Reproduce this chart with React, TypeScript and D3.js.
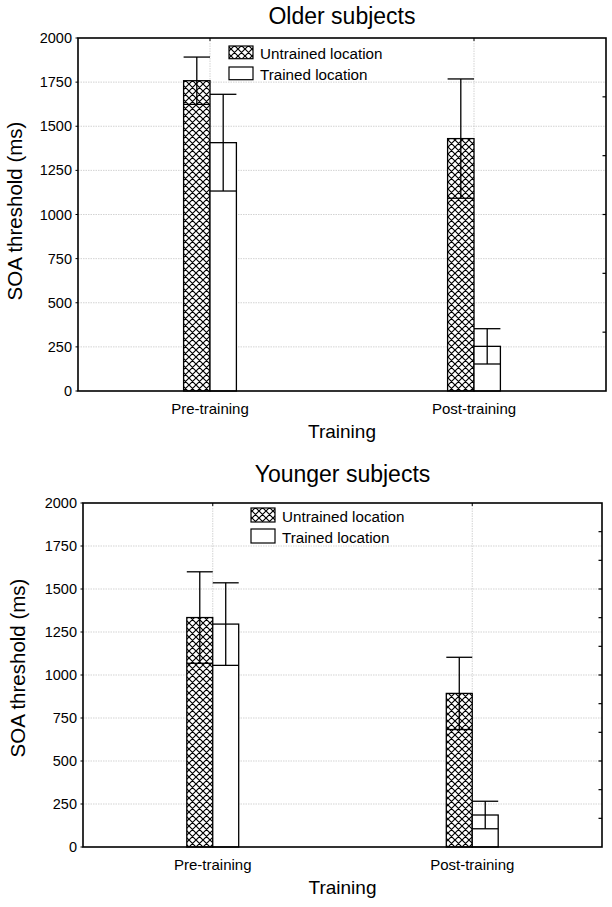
import React from "react";
import * as d3 from "d3";

const categories = ["Pre-training", "Post-training"];
const seriesNames = ["Untrained location", "Trained location"];
const yTicks = [0, 250, 500, 750, 1000, 1250, 1500, 1750, 2000];

const olderUntrained = [1758, 1430];
const olderUntrainedErr = [134, 338];
const olderTrained = [1407, 253];
const olderTrainedErr = [274, 100];

const youngerUntrained = [1334, 893];
const youngerUntrainedErr = [266, 210];
const youngerTrained = [1296, 186];
const youngerTrainedErr = [240, 80];

const FONT = "'Liberation Sans', Arial, Helvetica, sans-serif";

type PanelProps = {
  title: string;
  untrained: number[];
  untrainedErr: number[];
  trained: number[];
  trainedErr: number[];
  left: number;
  right: number;
  top: number;
  bottom: number;
  titleY: number;
  yTitleX: number;
  yTitleY: number;
  legendX: number;
  legendY: number;
  legendH: number;
  legendGap: number;
  rightTickCount: number;
  patternId: string;
};

function Panel(p: PanelProps) {
  const y = d3.scaleLinear().domain([0, 2000]).range([p.bottom, p.top]);
  const x = d3.scaleLinear().domain([0, 1]).range([p.left, p.right]);
  const w = p.right - p.left;
  const center = d3.scalePoint<string>().domain(categories).range([x(0.25), x(0.75)]);
  const bw = w * 0.05;
  const rightTicks = d3.range(1, p.rightTickCount).map((i) => (2000 * i) / p.rightTickCount);
  const series = [
    { vals: p.untrained, err: p.untrainedErr, fill: `url(#${p.patternId})`, off: -1 },
    { vals: p.trained, err: p.trainedErr, fill: "white", off: 0 },
  ];
  const cx = (p.left + p.right) / 2;
  const s = 7;
  return (
    <g fontFamily={FONT}>
      <defs>
        <pattern id={p.patternId} patternUnits="userSpaceOnUse" width={s} height={s}>
          <rect width={s} height={s} fill="white" />
          <path d={`M0,0 L${s},${s} M${s},0 L0,${s} M-1,${s - 1} L1,${s + 1} M${s - 1},-1 L${s + 1},1 M-1,1 L1,-1 M${s - 1},${s + 1} L${s + 1},${s - 1}`} stroke="#000" strokeWidth={1.15} />
        </pattern>
      </defs>
      <text x={cx} y={p.titleY} textAnchor="middle" fontSize={23}>{p.title}</text>
      {/* grid */}
      {yTicks.filter((t) => t > 0 && t < 2000).map((t) => (
        <line key={"g" + t} x1={p.left} x2={p.right} y1={y(t)} y2={y(t)} stroke="#c8c8c8" strokeWidth={0.8} strokeDasharray="1.5,1" />
      ))}
      {categories.map((c) => (
        <line key={"vg" + c} x1={center(c)} x2={center(c)} y1={p.top} y2={p.bottom} stroke="#c8c8c8" strokeWidth={0.8} strokeDasharray="1.5,1" />
      ))}
      {/* bars */}
      {series.map((sr, si) =>
        categories.map((c, ci) => {
          const x0 = (center(c) as number) + sr.off * bw;
          const v = sr.vals[ci];
          const e = sr.err[ci];
          const xm = x0 + bw / 2;
          return (
            <g key={si + "-" + ci}>
              <rect x={x0} y={y(v)} width={bw} height={y(0) - y(v)} fill={sr.fill} stroke="#000" strokeWidth={1.3} />
              <line x1={xm} x2={xm} y1={y(v + e)} y2={y(v - e)} stroke="#000" strokeWidth={1.3} />
              <line x1={x0} x2={x0 + bw} y1={y(v + e)} y2={y(v + e)} stroke="#000" strokeWidth={1.3} />
              <line x1={x0} x2={x0 + bw} y1={y(v - e)} y2={y(v - e)} stroke="#000" strokeWidth={1.3} />
            </g>
          );
        })
      )}
      {/* frame */}
      <rect x={p.left} y={p.top} width={w} height={p.bottom - p.top} fill="none" stroke="#000" strokeWidth={1.6} />
      {/* left ticks */}
      {yTicks.map((t) => (
        <g key={"yt" + t}>
          <line x1={p.left - 2.5} x2={p.left} y1={y(t)} y2={y(t)} stroke="#000" strokeWidth={1} />
          <text x={p.left - 6} y={y(t)} dy="0.35em" textAnchor="end" fontSize={14.5}>{t}</text>
        </g>
      ))}
      {rightTicks.map((t) => (
        <line key={"rt" + t} x1={p.right - 3.5} x2={p.right} y1={y(t)} y2={y(t)} stroke="#000" strokeWidth={1.2} />
      ))}
      {categories.map((c) => (
        <g key={"xt" + c}>
          <line x1={center(c)} x2={center(c)} y1={p.top} y2={p.top + 3} stroke="#000" strokeWidth={1} />
          <text x={center(c)} y={p.bottom + 23} textAnchor="middle" fontSize={15}>{c}</text>
        </g>
      ))}
      <text x={cx} y={p.bottom + 47} textAnchor="middle" fontSize={19}>Training</text>
      <text transform={`translate(${p.yTitleX},${p.yTitleY}) rotate(-90)`} textAnchor="middle" fontSize={20.5}>SOA threshold (ms)</text>
      {/* legend */}
      {seriesNames.map((n, i) => (
        <g key={n}>
          <rect x={p.legendX} y={p.legendY + i * p.legendGap} width={24} height={p.legendH} fill={i === 0 ? `url(#${p.patternId})` : "white"} stroke="#000" strokeWidth={1.2} />
          <text x={p.legendX + 31} y={p.legendY + i * p.legendGap + p.legendH} fontSize={15.2}>{n}</text>
        </g>
      ))}
    </g>
  );
}

export default function App() {
  return (
    <svg width={612} height={907} style={{ position: "absolute", left: 0, top: 0, background: "white" }}>
      <rect width={612} height={907} fill="white" />
      <Panel
        title="Older subjects"
        untrained={olderUntrained}
        untrainedErr={olderUntrainedErr}
        trained={olderTrained}
        trainedErr={olderTrainedErr}
        left={78}
        right={606}
        top={38}
        bottom={391}
        titleY={24}
        yTitleX={22}
        yTitleY={211}
        legendX={229}
        legendY={46}
        legendH={12.7}
        legendGap={21}
        rightTickCount={6}
        patternId="hatchA"
      />
      <Panel
        title="Younger subjects"
        untrained={youngerUntrained}
        untrainedErr={youngerUntrainedErr}
        trained={youngerTrained}
        trainedErr={youngerTrainedErr}
        left={83}
        right={602}
        top={503}
        bottom={847}
        titleY={482}
        yTitleX={25}
        yTitleY={668}
        legendX={251}
        legendY={508}
        legendH={14}
        legendGap={21}
        rightTickCount={12}
        patternId="hatchB"
      />
    </svg>
  );
}
